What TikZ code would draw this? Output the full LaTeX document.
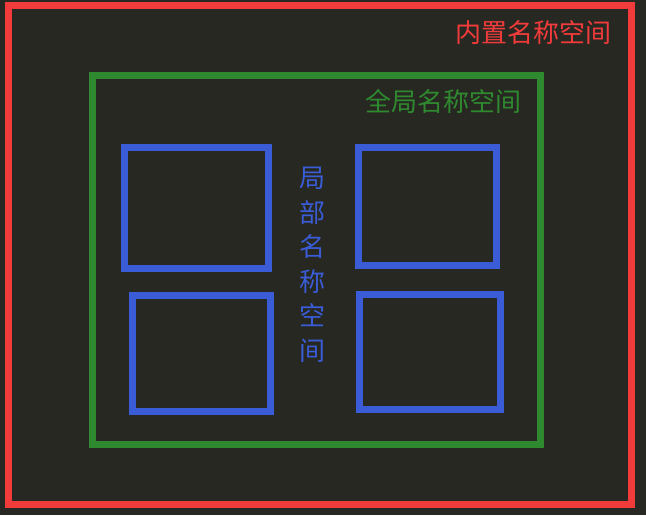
\documentclass[tikz,border=0pt]{standalone}
\usepackage{fontspec}
\newfontfamily\cjk{Noto Sans CJK SC}
\definecolor{bgdark}{HTML}{272822}
\definecolor{nsred}{HTML}{F23B3B}
\definecolor{nsgreen}{HTML}{2F8A2F}
\definecolor{nsblue}{HTML}{3A5CD6}

\begin{document}
\begin{tikzpicture}[x=1pt,y=-1pt,
    frame/.style={line width=7pt},
    nslabel/.style={font=\cjk\fontsize{26}{34.5}\selectfont, inner sep=0pt, align=center}]
            \fill[bgdark] (0,0) rectangle (646,515);
            \useasboundingbox (0,0) rectangle (646,515);
            \draw[frame, color=nsred] (8,5) rectangle (631,504);
            \draw[frame, color=nsgreen] (92.5,75.5) rectangle (540,444.5);
            \draw[frame, color=nsblue] (124.5,147) rectangle (268.5,268);
            \draw[frame, color=nsblue] (358,147.5) rectangle (496.5,265.5);
            \draw[frame, color=nsblue] (132,295) rectangle (270.5,411.5);
            \draw[frame, color=nsblue] (359.5,294.5) rectangle (500.5,409.5);
            \node[nslabel, color=nsred] (builtin) at (533,32.5) {内置名称空间};
            \node[nslabel, color=nsgreen] (global) at (443,101) {全局名称空间};
            \node[nslabel, color=nsblue] (local) at (312,265) {局\\部\\名\\称\\空\\间};
        \end{tikzpicture}
\end{document}
